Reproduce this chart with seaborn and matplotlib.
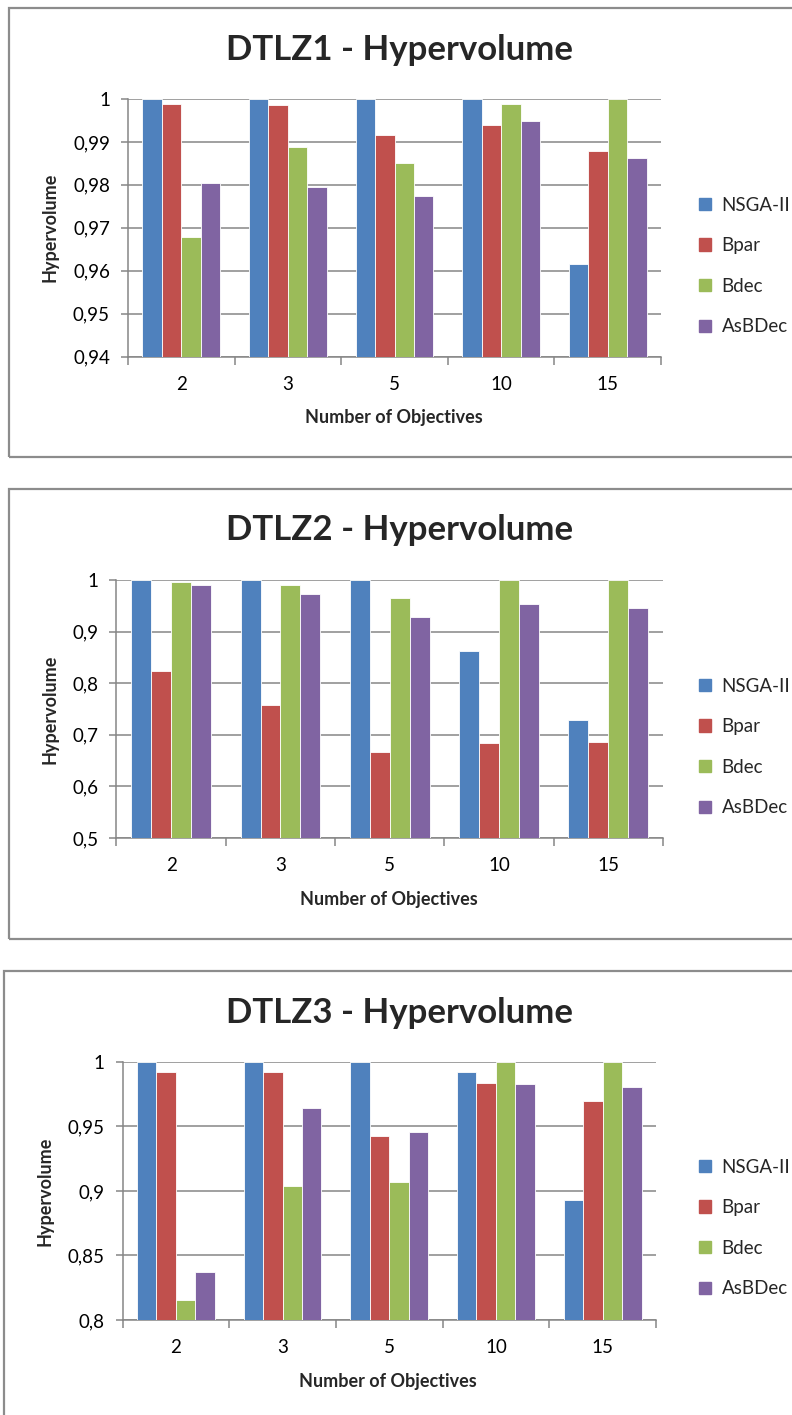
import matplotlib
matplotlib.use("Agg")
import matplotlib.pyplot as plt
import seaborn as sns
import pandas as pd
from matplotlib.patches import Rectangle
from matplotlib.ticker import FixedLocator

objectives = ["2", "3", "5", "10", "15"]
algorithms = ["NSGA-II", "Bpar", "Bdec", "AsBDec"]
colors = ["#4F81BD", "#C0504D", "#9BBB59", "#8064A2"]

dtlz1 = {
    "NSGA-II": [1.0, 1.0, 1.0, 1.0, 0.9616],
    "Bpar":    [0.9988, 0.9985, 0.9917, 0.9940, 0.9878],
    "Bdec":    [0.9679, 0.9889, 0.9850, 0.9989, 1.0],
    "AsBDec":  [0.9805, 0.9795, 0.9773, 0.9948, 0.9863],
}
dtlz2 = {
    "NSGA-II": [1.0, 1.0, 1.0, 0.8630, 0.7293],
    "Bpar":    [0.8236, 0.7578, 0.6673, 0.6835, 0.6867],
    "Bdec":    [0.9968, 0.9897, 0.9645, 1.0, 1.0],
    "AsBDec":  [0.9903, 0.9722, 0.9289, 0.9528, 0.9451],
}
dtlz3 = {
    "NSGA-II": [1.0, 1.0, 1.0, 0.9920, 0.8934],
    "Bpar":    [0.9922, 0.9922, 0.9426, 0.9837, 0.9697],
    "Bdec":    [0.8155, 0.9040, 0.9069, 1.0, 1.0],
    "AsBDec":  [0.8370, 0.9643, 0.9457, 0.9827, 0.9809],
}

titles = ["DTLZ1 - Hypervolume", "DTLZ2 - Hypervolume", "DTLZ3 - Hypervolume"]
yticks1 = [0.94, 0.95, 0.96, 0.97, 0.98, 0.99, 1.0]
yticklabels1 = ["0,94", "0,95", "0,96", "0,97", "0,98", "0,99", "1"]
yticks2 = [0.5, 0.6, 0.7, 0.8, 0.9, 1.0]
yticklabels2 = ["0,5", "0,6", "0,7", "0,8", "0,9", "1"]
yticks3 = [0.8, 0.85, 0.9, 0.95, 1.0]
yticklabels3 = ["0,8", "0,85", "0,9", "0,95", "1"]

sns.set_theme(style="white")
plt.rcParams["font.family"] = ["Lato", "DejaVu Sans"]

W, H = 792, 1415
fig = plt.figure(figsize=(W / 100, H / 100), dpi=100)

# (box_left, box_top, box_bottom, ax_left, ax_right, ax_top, ax_bottom,
#  title_y, xlabel_y, ylabel_x, legend_center_y, legend_spacing)
layouts = [
    (8.5, 8, 457, 128, 661, 99, 356.5, 50, 418, 50, 266, 1.26),
    (8.5, 489, 939, 116.5, 663, 580, 838, 530, 899, 50, 747, 1.26),
    (4, 971, 1430, 122.5, 656, 1062, 1320, 1013, 1382, 45, 1228, 1.26),
]
datasets = [dtlz1, dtlz2, dtlz3]
ytick_sets = [(yticks1, yticklabels1), (yticks2, yticklabels2), (yticks3, yticklabels3)]

grid_c = "#868686"

for data, title, (yt, ytl), lay in zip(datasets, titles, ytick_sets, layouts):
    bl, bt, bb, al, ar, at, ab, ty, xly, ylx, ly, lsp = lay
    fig.add_artist(Rectangle((bl / W, 1 - bb / H), (W + 20 - bl) / W, (bb - bt) / H,
                             transform=fig.transFigure, fill=False,
                             edgecolor="#8c8c8c", linewidth=1.6))
    ax = fig.add_axes([al / W, 1 - ab / H, (ar - al) / W, (ab - at) / H])
    rows = []
    for alg in algorithms:
        for obj, v in zip(objectives, data[alg]):
            rows.append({"Objectives": obj, "Algorithm": alg, "Hypervolume": v})
    df = pd.DataFrame(rows)
    sns.barplot(data=df, x="Objectives", y="Hypervolume", hue="Algorithm",
                hue_order=algorithms, order=objectives, palette=colors,
                width=0.73, gap=0, ax=ax, linewidth=0.6, edgecolor="white",
                errorbar=None, saturation=1, zorder=3)
    ax.set_ylim(yt[0], yt[-1])
    ax.set_xlim(-0.5, 4.5)
    ax.set_yticks(yt)
    ax.set_yticklabels(ytl, fontsize=13.5)
    ax.yaxis.grid(True, color=grid_c, linewidth=1.1, zorder=0)
    ax.set_axisbelow(True)
    for s in ["top", "right"]:
        ax.spines[s].set_visible(False)
    for s in ["left", "bottom"]:
        ax.spines[s].set_color(grid_c)
        ax.spines[s].set_linewidth(1.1)
    ax.tick_params(axis="y", which="major", left=True, length=5, width=1.1,
                   color=grid_c, pad=8, labelcolor="black")
    ax.tick_params(axis="x", which="major", bottom=False, length=0, pad=14,
                   labelsize=13.5, labelcolor="black")
    ax.xaxis.set_minor_locator(FixedLocator([-0.5, 0.5, 1.5, 2.5, 3.5, 4.5]))
    ax.tick_params(axis="x", which="minor", bottom=True, length=6, width=1.1,
                   color=grid_c)
    ax.set_xlabel("")
    ax.set_ylabel("")
    leg = ax.get_legend()
    if leg is not None:
        leg.remove()
    fig.text(400 / W, 1 - ty / H, title, ha="center", va="center",
             fontsize=25, fontweight="bold")
    fig.text(((al + ar) / 2 - 1) / W, 1 - xly / H, "Number of Objectives", ha="center",
             va="center", fontsize=13, fontweight="bold")
    fig.text(ylx / W, 1 - ((at + ab) / 2) / H, "Hypervolume", ha="center",
             va="center", rotation=90, fontsize=13, fontweight="bold")
    handles = [Rectangle((0, 0), 1, 1, color=c) for c in colors]
    fig.legend(handles, algorithms, loc="center left",
               bbox_to_anchor=(699 / W, 1 - ly / H), frameon=False,
               fontsize=13.5, handlelength=0.65, handleheight=0.65,
               handletextpad=0.55, labelspacing=lsp,
               borderaxespad=0, borderpad=0)

fig.savefig("out.png", dpi=100)
